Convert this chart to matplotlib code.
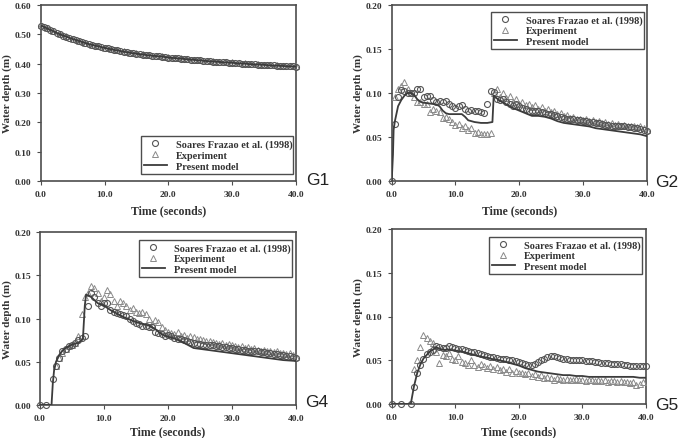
import numpy as np
import matplotlib
matplotlib.use("Agg")
import matplotlib.pyplot as plt
from matplotlib.lines import Line2D

nan = np.nan

# ---------------- data ----------------
t_half = np.arange(0, 40.01, 0.5)   # sampling of published / experimental points
t_one = np.arange(0, 40.01, 1.0)

# G1
g1_sf = [0.530, 0.526, 0.520, 0.515, 0.510, 0.505, 0.500, 0.496, 0.492, 0.488,
         0.484, 0.480, 0.477, 0.473, 0.470, 0.467, 0.464, 0.461, 0.459, 0.456,
         0.454, 0.452, 0.449, 0.447, 0.445, 0.443, 0.441, 0.439, 0.437, 0.436,
         0.434, 0.432, 0.431, 0.430, 0.428, 0.427, 0.426, 0.425, 0.424, 0.422,
         0.421, 0.420, 0.419, 0.418, 0.417, 0.416, 0.415, 0.414, 0.413, 0.412,
         0.411, 0.410, 0.409, 0.408, 0.407, 0.406, 0.406, 0.405, 0.404, 0.403,
         0.403, 0.402, 0.401, 0.400, 0.400, 0.399, 0.398, 0.398, 0.397, 0.396,
         0.396, 0.395, 0.394, 0.394, 0.393, 0.393, 0.392, 0.392, 0.391, 0.391,
         0.390]
g1_exp = [0.532, 0.521, 0.511, 0.501, 0.493, 0.485, 0.478, 0.471, 0.465, 0.460,
          0.455, 0.450, 0.446, 0.442, 0.438, 0.435, 0.432, 0.429, 0.427, 0.425,
          0.422, 0.420, 0.418, 0.416, 0.414, 0.412, 0.410, 0.408, 0.407, 0.405,
          0.404, 0.402, 0.401, 0.399, 0.398, 0.397, 0.395, 0.394, 0.393, 0.392,
          0.391]
g1_model = [0.530, 0.520, 0.510, 0.500, 0.492, 0.484, 0.477, 0.470, 0.464, 0.459,
            0.454, 0.449, 0.445, 0.441, 0.437, 0.434, 0.431, 0.428, 0.426, 0.424,
            0.421, 0.419, 0.417, 0.415, 0.413, 0.411, 0.409, 0.407, 0.406, 0.404,
            0.403, 0.401, 0.400, 0.398, 0.397, 0.396, 0.394, 0.393, 0.392, 0.391,
            0.390]

# G2
g2_sf = [0.000, 0.065, 0.095, 0.103, 0.102, 0.100, 0.100, 0.100, 0.104, 0.104,
         0.095, 0.097, 0.097, 0.092, 0.090, 0.091, 0.090, 0.091, 0.088, 0.085,
         0.083, 0.085, 0.086, 0.082, 0.080, 0.081, 0.080, 0.079, 0.078, 0.077,
         0.087, 0.102, 0.101, 0.093, 0.092, 0.093, 0.090, 0.088, 0.085, 0.087,
         0.085, 0.083, 0.082, 0.080, 0.080, 0.080, 0.079, 0.078, 0.077, 0.076,
         0.076, 0.075, 0.074, 0.073, 0.072, 0.071, 0.071, 0.070, 0.069, 0.069,
         0.068, 0.068, 0.067, 0.067, 0.066, 0.066, 0.065, 0.064, 0.064, 0.063,
         0.063, 0.062, 0.062, 0.062, 0.061, 0.061, 0.060, 0.060, 0.059, 0.058,
         0.057]
g2_exp = [nan, 0.095, 0.104, 0.108, 0.112, 0.105, 0.100, 0.095, 0.090, 0.090,
          0.088, 0.087, 0.078, 0.082, 0.080, 0.078, 0.072, 0.073, 0.070, 0.067,
          0.064, 0.065, 0.060, 0.062, 0.058, 0.060, 0.055, 0.056, 0.053, 0.053,
          0.053, 0.054, 0.100, 0.105, 0.096, 0.100, 0.094, 0.097, 0.090, 0.093,
          0.088, 0.090, 0.086, 0.088, 0.084, 0.086, 0.082, 0.084, 0.080, 0.082,
          0.078, 0.079, 0.076, 0.077, 0.074, 0.075, 0.072, 0.073, 0.070, 0.071,
          0.069, 0.070, 0.068, 0.069, 0.067, 0.068, 0.066, 0.067, 0.065, 0.066,
          0.064, 0.065, 0.063, 0.064, 0.062, 0.063, 0.062, 0.061, 0.062, 0.060,
          0.058]
g2_model_t = [0, 0.2, 0.3, 0.5, 1.0, 1.5, 2.0, 2.5, 3.0, 3.5, 4.0, 4.5, 5.0,
              6.0, 7.0, 7.5, 8.0, 8.5, 9.0, 10.0, 11.0, 11.5, 12.0, 12.5, 13.0,
              14.0, 15.0, 15.8, 16.0, 16.3, 17, 18, 19, 20, 21, 22, 23, 24, 25,
              26, 27, 28, 29, 30, 31, 32, 33, 34, 35, 36, 37, 38, 39, 40]
g2_model = [0.0, 0.03, 0.058, 0.068, 0.085, 0.092, 0.097, 0.100, 0.100, 0.098,
            0.093, 0.090, 0.089, 0.088, 0.087, 0.085, 0.080, 0.077, 0.076, 0.076,
            0.076, 0.073, 0.069, 0.068, 0.067, 0.066, 0.066, 0.067, 0.097, 0.095,
            0.091, 0.087, 0.083, 0.080, 0.077, 0.074, 0.074, 0.073, 0.071, 0.068,
            0.066, 0.065, 0.064, 0.063, 0.062, 0.060, 0.059, 0.058, 0.057, 0.056,
            0.055, 0.054, 0.053, 0.051]

# G4
g4_sf = [0.000, nan, 0.000, nan, 0.030, 0.045, 0.055, 0.062, 0.065, 0.068,
         0.070, 0.072, 0.075, 0.078, 0.080, 0.115, 0.130, 0.125, 0.118, 0.115,
         0.118, 0.118, 0.110, 0.108, 0.106, 0.105, 0.104, 0.103, 0.100, 0.097,
         0.095, 0.094, 0.092, 0.092, 0.090, 0.090, 0.085, 0.083, 0.082, 0.080,
         0.081, 0.080, 0.078, 0.077, 0.076, 0.075, 0.074, 0.073, 0.072, 0.071,
         0.071, 0.070, 0.070, 0.069, 0.069, 0.068, 0.068, 0.067, 0.067, 0.066,
         0.066, 0.065, 0.065, 0.064, 0.064, 0.063, 0.063, 0.062, 0.062, 0.061,
         0.061, 0.060, 0.060, 0.059, 0.059, 0.058, 0.058, 0.057, 0.057, 0.056,
         0.055]
g4_exp = [nan, nan, nan, nan, nan, 0.045, 0.055, 0.060, 0.065, 0.068,
          0.070, 0.072, 0.080, 0.105, 0.125, 0.130, 0.138, 0.135, 0.130, 0.120,
          0.125, 0.133, 0.128, 0.120, 0.115, 0.120, 0.118, 0.115, 0.110, 0.112,
          0.108, 0.106, 0.108, 0.105, 0.100, 0.094, 0.098, 0.096, 0.090, 0.087,
          0.085, 0.083, 0.082, 0.085, 0.080, 0.081, 0.078, 0.080, 0.079, 0.076,
          0.077, 0.075, 0.074, 0.074, 0.073, 0.072, 0.071, 0.072, 0.070, 0.071,
          0.069, 0.068, 0.067, 0.068, 0.066, 0.067, 0.065, 0.066, 0.064, 0.063,
          0.064, 0.062, 0.063, 0.061, 0.062, 0.060, 0.060, 0.059, 0.060, 0.058,
          0.056]
g4_model_t = [0, 1.8, 2.0, 2.2, 2.5, 3.0, 3.5, 4.0, 5.0, 6.0, 6.5, 6.7, 7.0, 7.2,
              8, 9, 10, 11, 12, 13, 14, 15, 16, 17, 18, 19, 20, 21, 22, 23, 24,
              25, 26, 27, 28, 29, 30, 31, 32, 33, 34, 35, 36, 37, 38, 39, 40]
g4_model = [0, 0, 0.025, 0.040, 0.050, 0.058, 0.063, 0.066, 0.070, 0.072, 0.075,
            0.076, 0.115, 0.128, 0.125, 0.118, 0.115, 0.110, 0.106, 0.102, 0.099,
            0.096, 0.094, 0.092, 0.088, 0.082, 0.079, 0.077, 0.074, 0.070, 0.066,
            0.065, 0.064, 0.063, 0.062, 0.061, 0.060, 0.059, 0.058, 0.057, 0.056,
            0.055, 0.054, 0.053, 0.052, 0.0515, 0.051]

# G5
g5_sf = [0.000, nan, nan, 0.000, nan, nan, 0.000, 0.020, 0.035, 0.045,
         0.052, 0.057, 0.060, 0.062, 0.066, 0.065, 0.064, 0.064, 0.066, 0.065,
         0.064, 0.063, 0.063, 0.062, 0.061, 0.060, 0.059, 0.058, 0.057, 0.056,
         0.055, 0.054, 0.054, 0.053, 0.052, 0.052, 0.051, 0.050, 0.050, 0.049,
         0.048, 0.047, 0.046, 0.045, 0.045, 0.046, 0.048, 0.050, 0.052, 0.054,
         0.055, 0.055, 0.054, 0.053, 0.052, 0.051, 0.050, 0.050, 0.050, 0.050,
         0.050, 0.049, 0.049, 0.049, 0.048, 0.048, 0.047, 0.047, 0.047, 0.046,
         0.046, 0.046, 0.046, 0.045, 0.045, 0.044, 0.044, 0.044, 0.044, 0.043,
         0.043]
g5_exp = [nan, nan, nan, nan, nan, nan, nan, 0.040, 0.050, 0.065,
          0.079, 0.075, 0.072, 0.070, 0.060, 0.047, 0.056, 0.055, 0.058, 0.052,
          0.050, 0.055, 0.048, 0.047, 0.045, 0.050, 0.045, 0.042, 0.046, 0.044,
          0.041, 0.043, 0.040, 0.042, 0.039, 0.040, 0.037, 0.040, 0.036, 0.038,
          0.035, 0.036, 0.034, 0.035, 0.032, 0.034, 0.031, 0.033, 0.030, 0.031,
          0.030, 0.028, 0.030, 0.029, 0.027, 0.029, 0.028, 0.027, 0.029, 0.027,
          0.028, 0.026, 0.028, 0.027, 0.026, 0.027, 0.026, 0.027, 0.025, 0.026,
          0.026, 0.025, 0.026, 0.025, 0.025, 0.024, 0.025, 0.022, 0.023, 0.025,
          nan]
g5_model_t = [0, 3.0, 3.5, 4, 4.5, 5, 5.5, 6, 6.5, 7, 7.5, 8, 9, 10, 11, 12, 13,
              14, 15, 16, 17, 18, 19, 20, 21, 22, 23, 24, 25, 26, 27, 28, 29, 30,
              31, 32, 33, 34, 35, 36, 37, 38, 39, 40]
g5_model = [0, 0, 0.020, 0.035, 0.045, 0.052, 0.056, 0.060, 0.062, 0.065, 0.063,
            0.062, 0.062, 0.061, 0.060, 0.058, 0.056, 0.054, 0.053, 0.051, 0.050,
            0.048, 0.046, 0.044, 0.041, 0.039, 0.037, 0.036, 0.035, 0.034, 0.033,
            0.033, 0.032, 0.032, 0.031, 0.031, 0.031, 0.031, 0.031, 0.031, 0.031,
            0.031, 0.030, 0.030]

x_ticks = [0, 10, 20, 30, 40]
x_labels = ["0.0", "10.0", "20.0", "30.0", "40.0"]
legend_labels = ["Soares Frazao et al. (1998)", "Experiment", "Present model"]

# ---------------- style ----------------
plt.rcParams['font.family'] = ['Liberation Serif', 'DejaVu Serif']
SPINE = '#4d4d4d'
C_CIR = '#555555'
C_TRI = '#8a8a8a'
C_LINE = '#3c3c3c'

fig = plt.figure(figsize=(6.8, 4.39), dpi=100)

panels = [
    dict(pos=[40.7, 6, 296, 182], sf=(t_half, g1_sf), ex=(t_one, g1_exp),
         md=(t_one, g1_model), ymax=0.6, ystep=0.1, name="G1",
         leg=[141, 134, 293, 178], glab=(306, 185), xl=211, yl=7),
    dict(pos=[391.7, 6, 646.7, 182], sf=(t_half, g2_sf), ex=(t_half, g2_exp),
         md=(g2_model_t, g2_model), ymax=0.2, ystep=0.05, name="G2",
         leg=[491, 9, 644, 54], glab=(655, 187), xl=211, yl=358),
    dict(pos=[40, 233.3, 296, 406], sf=(t_half, g4_sf), ex=(t_half, g4_exp),
         md=(g4_model_t, g4_model), ymax=0.2, ystep=0.05, name="G4",
         leg=[139, 237, 292, 282], glab=(305, 407), xl=432, yl=7),
    dict(pos=[391.7, 230, 646, 405], sf=(t_half, g5_sf), ex=(t_half, g5_exp),
         md=(g5_model_t, g5_model), ymax=0.2, ystep=0.05, name="G5",
         leg=[489, 234, 642, 279], glab=(655, 410), xl=432, yl=358),
]

W, H = 680.0, 439.0
for p in panels:
    x0, y0, x1, y1 = p['pos']
    ax = fig.add_axes([x0 / W, 1 - y1 / H, (x1 - x0) / W, (y1 - y0) / H])
    for (tt, vv) in (p['sf'], p['ex'], p['md']):
        assert len(tt) == len(vv), (p['name'], len(tt), len(vv))
    ax.plot(p['ex'][0], p['ex'][1], linestyle='none', marker='^', ms=4.3,
            mfc='none', mec=C_TRI, mew=0.7, clip_on=False, zorder=3)
    ax.plot(p['sf'][0], p['sf'][1], linestyle='none', marker='o', ms=4.3,
            mfc='none', mec=C_CIR, mew=0.8, clip_on=False, zorder=4)
    ax.plot(p['md'][0], p['md'][1], color=C_LINE, lw=1.3, zorder=5)
    ax.set_xlim(0, 40)
    ax.set_ylim(0, p['ymax'])
    yt = np.round(np.arange(0, p['ymax'] + 1e-9, p['ystep']), 2)
    ax.set_yticks(yt)
    ax.set_yticklabels(["%.2f" % v for v in yt])
    ax.set_xticks(x_ticks)
    ax.set_xticklabels(x_labels)
    for s in ax.spines.values():
        s.set_color(SPINE)
        s.set_linewidth(1.2)
    ax.tick_params(direction='out', length=3, width=0.8, color=SPINE,
                   labelsize=6.8, labelcolor='#333333', pad=3.5)
    for lab in ax.get_xticklabels() + ax.get_yticklabels():
        lab.set_fontweight('bold')
    ax.set_xlabel("Time (seconds)", fontsize=8.5, fontweight='bold',
                  color='#333333', va='center')
    ax.set_ylabel("Water depth (m)", fontsize=8, fontweight='bold',
                  color='#333333', va='center')
    ax.xaxis.set_label_coords(0.5, (y1 - p['xl']) / (y1 - y0))
    ax.yaxis.set_label_coords((p['yl'] - x0) / (x1 - x0), 0.5)
    handles = [
        Line2D([], [], linestyle='none', marker='o', ms=4.3, mfc='none',
               mec=C_CIR, mew=0.8),
        Line2D([], [], linestyle='none', marker='^', ms=4.3, mfc='none',
               mec=C_TRI, mew=0.7),
        Line2D([], [], color=C_LINE, lw=1.3),
    ]
    lx0, ly0, lx1, ly1 = p['leg']
    bb = ((lx0 - x0) / (x1 - x0), (y1 - ly1) / (y1 - y0),
          (lx1 - lx0) / (x1 - x0), (ly1 - ly0) / (y1 - y0))
    leg = ax.legend(handles, legend_labels, loc='center left',
                    bbox_to_anchor=bb, mode='expand', frameon=True,
                    fancybox=False, edgecolor=SPINE, framealpha=1,
                    prop=dict(family=['Liberation Serif'], weight='bold', size=7.4),
                    handlelength=2.2, handletextpad=0.9, borderpad=0.3,
                    labelspacing=0.15, borderaxespad=0)
    leg.get_frame().set_linewidth(1.0)
    for txt in leg.get_texts():
        txt.set_color('#333333')
    gx, gy = p['glab']
    fig.text(gx / W, 1 - gy / H, p['name'], fontsize=12.5,
             family=['Liberation Sans'], color='#222222', ha='left', va='baseline')

fig.savefig("out.png", dpi=100)
